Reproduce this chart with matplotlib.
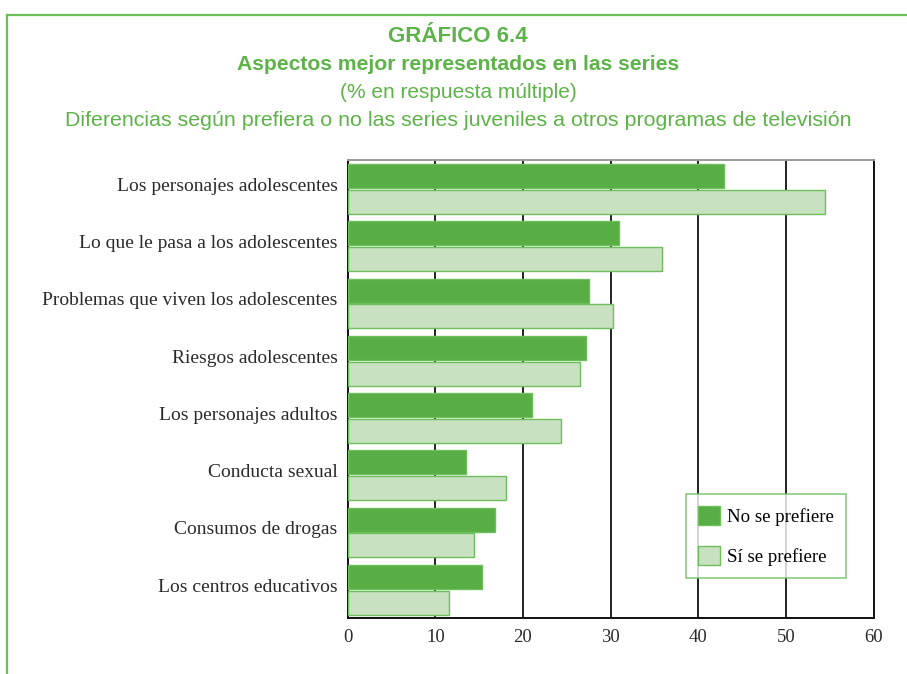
import matplotlib
matplotlib.use("Agg")
import matplotlib.pyplot as plt
import numpy as np
from matplotlib.lines import Line2D

categories = [
    "Los personajes adolescentes",
    "Lo que le pasa a los adolescentes",
    "Problemas que viven los adolescentes",
    "Riesgos adolescentes",
    "Los personajes adultos",
    "Conducta sexual",
    "Consumos de drogas",
    "Los centros educativos",
]
no_prefiere = [42.9, 31.0, 27.5, 27.2, 21.0, 13.5, 16.8, 15.3]
si_prefiere = [54.5, 35.8, 30.3, 26.5, 24.3, 18.1, 14.4, 11.6]
series_labels = ["No se prefiere", "Sí se prefiere"]
xticks = [0, 10, 20, 30, 40, 50, 60]

green_dark = "#58AE44"
green_light = "#C9E1C1"
green_edge = "#6CBF5A"
title_green = "#5CB347"
text_col = "#2a2a2a"

W, H = 907, 674
fig = plt.figure(figsize=(W / 100, H / 100), dpi=100)

# frame (left + top green line)
fig.add_artist(Line2D([7 / W, 7 / W], [0, 1 - 14.5 / H], transform=fig.transFigure,
                      color=green_edge, lw=1.6))
fig.add_artist(Line2D([7 / W, 1], [1 - 14.5 / H, 1 - 14.5 / H], transform=fig.transFigure,
                      color=green_edge, lw=1.6))

title_font = ["Liberation Sans", "DejaVu Sans"]
cx = 458 / W
fig.text(cx, 1 - 37 / H, "GRÁFICO 6.4", ha="center", va="center", color=title_green,
         fontsize=16, fontweight="bold", family=title_font)
fig.text(cx, 1 - 64 / H, "Aspectos mejor representados en las series", ha="center", va="center",
         color=title_green, fontsize=15.2, fontweight="bold", family=title_font)
fig.text(cx, 1 - 92 / H, "(% en respuesta múltiple)", ha="center", va="center",
         color=title_green, fontsize=15, family=title_font)
fig.text(cx, 1 - 120 / H, "Diferencias según prefiera o no las series juveniles a otros programas de televisión",
         ha="center", va="center", color=title_green, fontsize=15.4, family=title_font)

left, right, top, bottom = 347.6, 873.7, 160.3, 618.3
ax = fig.add_axes([left / W, 1 - bottom / H, (right - left) / W, (bottom - top) / H])

y = np.arange(len(categories))
bh = 0.42
off = 0.225
ax.barh(y - off, no_prefiere, height=bh, color=green_dark, edgecolor=green_edge, lw=1.0,
        label=series_labels[0], zorder=3)
ax.barh(y + off, si_prefiere, height=bh, color=green_light, edgecolor=green_edge, lw=1.0,
        label=series_labels[1], zorder=3)

ax.set_xlim(0, 60)
ax.set_ylim(7.5, -0.5)
ax.set_xticks(xticks)
ax.set_xticklabels([str(t) for t in xticks])
ax.set_yticks(y - 0.08)
ax.set_yticklabels(categories)
serif = ["Liberation Serif", "DejaVu Serif"]
for lab in ax.get_yticklabels():
    lab.set_family(serif)
    lab.set_fontsize(14)
    lab.set_color(text_col)
for lab in ax.get_xticklabels():
    lab.set_family(serif)
    lab.set_fontsize(13.5)
    lab.set_color(text_col)
ax.tick_params(axis="both", length=0)
ax.tick_params(axis="y", pad=7.3)
ax.tick_params(axis="x", pad=8)

for v in xticks[1:-1]:
    ax.axvline(v, color="#111111", lw=1.3, zorder=1)
for s in ["left", "right", "bottom"]:
    ax.spines[s].set_color("#111111")
    ax.spines[s].set_linewidth(1.4)
ax.spines["top"].set_color("#999999")
ax.spines["top"].set_linewidth(1.4)

leg = ax.legend(loc="lower left", bbox_to_anchor=(0.643, 0.088), frameon=True,
                prop={"family": serif, "size": 13.6}, handlelength=1.15, handleheight=1.15,
                labelspacing=1.05, borderpad=0.65, handletextpad=0.38, borderaxespad=0,
                fancybox=False)
leg.get_frame().set_edgecolor(green_edge)
leg.get_frame().set_linewidth(1.2)
leg.set_zorder(5)

fig.savefig("out.png", dpi=100)
